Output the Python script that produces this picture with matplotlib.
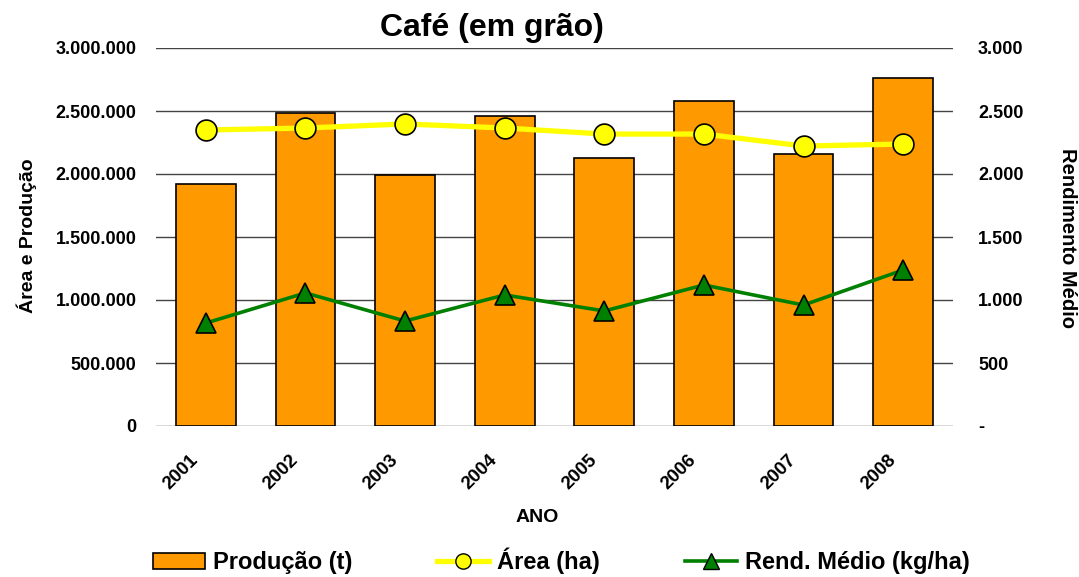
import matplotlib
matplotlib.use("Agg")
import matplotlib.pyplot as plt
import matplotlib.transforms as mtransforms
from matplotlib.ticker import FuncFormatter, MultipleLocator
from matplotlib.lines import Line2D
from matplotlib.patches import Patch

anos = ["2001", "2002", "2003", "2004", "2005", "2006", "2007", "2008"]
producao_t = [1921000, 2484000, 1992000, 2460000, 2127000, 2579000, 2159000, 2762000]
area_ha = [2349000, 2365000, 2397000, 2365000, 2317000, 2317000, 2222000, 2238000]
rend_kg_ha = [817, 1056, 833, 1040, 913, 1119, 960, 1238]

ORANGE = "#FF9900"
YELLOW = "#FFFF00"
GREEN = "#008000"
FONT = "Liberation Sans"
plt.rcParams["font.family"] = [FONT, "DejaVu Sans"]


def fmt_dots(v, pos=None):
    return f"{int(round(v)):,}".replace(",", ".")


def fmt_right(v, pos=None):
    if abs(v) < 1e-9:
        return "-"
    return fmt_dots(v)


W, H = 1079, 577
fig = plt.figure(figsize=(W / 100, H / 100), dpi=100)
ax = fig.add_axes([156 / W, 1 - 426 / H, (953 - 156) / W, (426 - 48) / H])
ax2 = ax.twinx()

x = list(range(len(anos)))
ax.bar(x, producao_t, width=0.6, color=ORANGE, edgecolor="black", linewidth=1.2, zorder=2)
ax.plot(x, area_ha, color=YELLOW, lw=3.8, marker="o", markersize=15,
        markerfacecolor=YELLOW, markeredgecolor="black", markeredgewidth=1.2, zorder=3)
ax2.plot(x, rend_kg_ha, color=GREEN, lw=2.6, marker="^", markersize=14,
         markerfacecolor=GREEN, markeredgecolor="black", markeredgewidth=1.2, zorder=3)

ax.set_xlim(-0.5, len(anos) - 0.5)
ax.set_ylim(0, 3000000)
ax2.set_ylim(0, 3000)
ax.yaxis.set_major_locator(MultipleLocator(500000))
ax2.yaxis.set_major_locator(MultipleLocator(500))
ax.yaxis.set_major_formatter(FuncFormatter(fmt_dots))
ax2.yaxis.set_major_formatter(FuncFormatter(fmt_right))
ax.grid(axis="y", color="#444444", lw=1.0, zorder=0)
ax.set_axisbelow(True)

for a in (ax, ax2):
    for s in a.spines.values():
        s.set_visible(False)
ax.tick_params(axis="y", length=0, pad=14, labelsize=13)
ax2.tick_params(axis="y", length=0, pad=18, labelsize=13)
ax.tick_params(axis="x", length=0, pad=18, labelsize=13.5)
for lab in ax.get_yticklabels() + ax2.get_yticklabels():
    lab.set_fontweight("bold")

ax.set_xticks(x)
ax.set_xticklabels(anos, rotation=45, ha="right", va="top",
                   rotation_mode="anchor", fontweight="bold")
shift = mtransforms.ScaledTranslation(-16 / 100, 0, fig.dpi_scale_trans)
for lab in ax.get_xticklabels():
    lab.set_transform(lab.get_transform() + shift)

fig.text(537 / W, 1 - 517 / H, "ANO", fontsize=14, fontweight="bold",
         ha="center", va="center")
fig.text(27 / W, 1 - 236 / H, "Área e Produção", fontsize=14, fontweight="bold",
         rotation=90, ha="center", va="center")
fig.text(1067 / W, 1 - 238 / H, "Rendimento Médio", fontsize=14.5, fontweight="bold",
         rotation=-90, ha="center", va="center")
fig.text(492 / W, 1 - 28 / H, "Café (em grão)", fontsize=23, fontweight="bold",
         ha="center", va="center")

handles = [
    Patch(facecolor=ORANGE, edgecolor="black", linewidth=1.2),
    Line2D([], [], color=YELLOW, lw=3.8, marker="o", markersize=11,
           markerfacecolor=YELLOW, markeredgecolor="black"),
    Line2D([], [], color=GREEN, lw=2.6, marker="^", markersize=11,
           markerfacecolor=GREEN, markeredgecolor="black"),
]
labels = ["Produção (t)", "Área (ha)", "Rend. Médio (kg/ha)"]
fig.legend(handles, labels, loc="center", bbox_to_anchor=(561 / W, 1 - 561 / H),
           ncol=3, frameon=False, prop={"family": FONT, "weight": "bold", "size": 17},
           handlelength=2.2, columnspacing=3.6, handletextpad=0.34,
           borderpad=0, borderaxespad=0)

fig.savefig("out.png", dpi=100)
